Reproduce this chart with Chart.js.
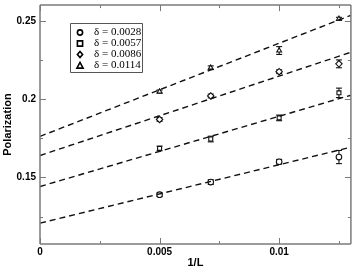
<!DOCTYPE html>
<html>
<head>
<meta charset="utf-8">
<script src="https://cdn.jsdelivr.net/npm/chart.js@4/dist/chart.umd.min.js"></script>
<style>
  html, body { margin: 0; padding: 0; background: #fff; }
</style>
</head>
<body>
<canvas id="chart" width="356" height="277"></canvas>
<script>
// 1/L values (L = 200, 140, 100, 80)
const invL = [0.005, 0.00714, 0.01, 0.0125];

const deltaLabels = ['δ = 0.0028', 'δ = 0.0057', 'δ = 0.0086', 'δ = 0.0114'];
const markerStyles = ['circle', 'rect', 'rectRot', 'triangle'];

// polarization per delta
const polD1 = [0.1390, 0.1470, 0.1600, 0.1630];
const polD2 = [0.1685, 0.1745, 0.1880, 0.2040];
const polD3 = [0.1870, 0.2020, 0.2175, 0.2225];
const polD4 = [0.2048, 0.2200, 0.2310, 0.2512];

// error bar half widths
const errD1 = [0.0012, 0.0015, 0.0015, 0.0042];
const errD2 = [0.0015, 0.0018, 0.0018, 0.0030];
const errD3 = [0.0012, 0.0012, 0.0012, 0.0025];
const errD4 = [0.0010, 0.0012, 0.0025, 0.0010];

// dashed fit lines: value at 1/L = 0 and at 1/L = 0.013
const fitX = [0, 0.013];
const fitD1 = [0.1208, 0.1693];
const fitD2 = [0.1442, 0.2025];
const fitD3 = [0.1640, 0.2299];
const fitD4 = [0.1762, 0.2535];

const xMajor = [0, 0.005, 0.01];
const xMinor = [0.0025, 0.0075, 0.0125];
const xTickLabels = ['0', '0.005', '0.01'];
const yMajor = [0.15, 0.2, 0.25];
const yMinor = [0.125, 0.175, 0.225];
const yTickLabels = ['0.15', '0.2', '0.25'];

const pols = [polD1, polD2, polD3, polD4];
const errs = [errD1, errD2, errD3, errD4];
const fits = [fitD1, fitD2, fitD3, fitD4];

const datasets = [];
fits.forEach(function (f) {
  datasets.push({
    type: 'line',
    data: fitX.map(function (x, i) { return { x: x, y: f[i] }; }),
    borderColor: '#111',
    borderWidth: 1.4,
    borderDash: [6, 4],
    pointRadius: 0,
    fill: false
  });
});
pols.forEach(function (p, k) {
  datasets.push({
    type: 'scatter',
    label: deltaLabels[k],
    data: invL.map(function (x, i) { return { x: x, y: p[i] }; }),
    pointStyle: markerStyles[k],
    pointRadius: k === 2 ? 3.2 : 2.8,
    borderColor: '#111',
    backgroundColor: '#fff',
    pointBorderWidth: 1.1,
    errors: errs[k]
  });
});

function drawMarker(ctx, style, x, y, r) {
  ctx.beginPath();
  if (style === 'circle') {
    ctx.arc(x, y, r, 0, Math.PI * 2);
  } else if (style === 'rect') {
    ctx.rect(x - r, y - r, 2 * r, 2 * r);
  } else if (style === 'rectRot') {
    ctx.moveTo(x, y - r - 0.5); ctx.lineTo(x + r, y); ctx.lineTo(x, y + r + 0.5); ctx.lineTo(x - r, y); ctx.closePath();
  } else {
    ctx.moveTo(x, y - r - 0.5); ctx.lineTo(x + r + 0.5, y + r); ctx.lineTo(x - r - 0.5, y + r); ctx.closePath();
  }
  ctx.fillStyle = '#fff';
  ctx.fill();
  ctx.stroke();
}

function line(ctx, x1, y1, x2, y2) {
  ctx.beginPath();
  ctx.moveTo(x1, y1);
  ctx.lineTo(x2, y2);
  ctx.stroke();
}

const extras = {
  id: 'extras',
  beforeDatasetsDraw: function (chart) {
    const ctx = chart.ctx, xs = chart.scales.x, ys = chart.scales.y;
    // error bars
    ctx.save();
    ctx.setLineDash([]);
    ctx.strokeStyle = '#111';
    ctx.lineWidth = 1.1;
    chart.data.datasets.forEach(function (ds) {
      if (!ds.errors) return;
      ds.data.forEach(function (pt, i) {
        const px = xs.getPixelForValue(pt.x);
        const top = ys.getPixelForValue(pt.y + ds.errors[i]);
        const bot = ys.getPixelForValue(pt.y - ds.errors[i]);
        line(ctx, px, top, px, bot);
        line(ctx, px - 3, top, px + 3, top);
        line(ctx, px - 3, bot, px + 3, bot);
      });
    });
    ctx.restore();
  },
  afterDraw: function (chart) {
    const ctx = chart.ctx, xs = chart.scales.x, ys = chart.scales.y;
    const a = chart.chartArea;
    ctx.save();
    ctx.setLineDash([]);
    ctx.globalAlpha = 1;

    // frame
    ctx.strokeStyle = '#7a7a7a';
    ctx.lineWidth = 1.5;
    line(ctx, a.left, a.top, a.right, a.top);
    line(ctx, a.right, a.top, a.right, a.bottom);
    line(ctx, a.right, a.bottom, a.left, a.bottom);
    line(ctx, a.left, a.bottom, a.left, a.top);

    // inward ticks on all sides
    ctx.lineWidth = 1;
    function xt(v, len) {
      const p = Math.round(xs.getPixelForValue(v)) + 0.5;
      line(ctx, p, a.bottom, p, a.bottom - len);
      line(ctx, p, a.top, p, a.top + len);
    }
    function yt(v, len) {
      const p = Math.round(ys.getPixelForValue(v)) + 0.5;
      line(ctx, a.left, p, a.left + len, p);
      line(ctx, a.right, p, a.right - len, p);
    }
    xMajor.forEach(function (v) { xt(v, 6); });
    xMinor.forEach(function (v) { xt(v, 3); });
    yMajor.forEach(function (v) { yt(v, 6); });
    yMinor.forEach(function (v) { yt(v, 3); });

    // tick labels
    ctx.fillStyle = '#000';
    ctx.font = 'bold 10px "Liberation Sans", Arial, sans-serif';
    ctx.textBaseline = 'middle';
    ctx.textAlign = 'center';
    xMajor.forEach(function (v, i) {
      ctx.fillText(xTickLabels[i], xs.getPixelForValue(v), a.bottom + 8);
    });
    ctx.textAlign = 'right';
    yMajor.forEach(function (v, i) {
      ctx.fillText(yTickLabels[i], a.left - 4, ys.getPixelForValue(v));
    });

    // axis titles
    ctx.font = 'bold 11px "Liberation Sans", Arial, sans-serif';
    ctx.textAlign = 'center';
    ctx.fillText('1/L', (a.left + a.right) / 2, 263);
    ctx.save();
    ctx.translate(8, (a.top + a.bottom) / 2);
    ctx.rotate(-Math.PI / 2);
    ctx.fillText('Polarization', 0, 0);
    ctx.restore();

    // legend box
    const bx = 70.5, by = 23.5, bw = 72, bh = 49;
    ctx.fillStyle = '#fff';
    ctx.fillRect(bx, by, bw, bh);
    ctx.strokeStyle = '#555';
    ctx.lineWidth = 1;
    line(ctx, bx, by, bx + bw, by);
    line(ctx, bx + bw, by, bx + bw, by + bh);
    line(ctx, bx + bw, by + bh, bx, by + bh);
    line(ctx, bx, by + bh, bx, by);
    ctx.font = '11px "Liberation Serif", "Times New Roman", serif';
    ctx.textAlign = 'left';
    ctx.textBaseline = 'middle';
    deltaLabels.forEach(function (lab, k) {
      const yy = by + 9 + k * 11;
      ctx.strokeStyle = '#000';
      ctx.lineWidth = 1.6;
      drawMarker(ctx, markerStyles[k], 80, yy, 2.6);
      ctx.fillStyle = '#000';
      ctx.fillText(lab, 94, yy);
    });
    ctx.restore();
  }
};

new Chart(document.getElementById('chart'), {
  data: { datasets: datasets },
  plugins: [extras],
  options: {
    responsive: false,
    animation: false,
    layout: { padding: { top: 1, right: 1, left: 0, bottom: 0 } },
    plugins: { legend: { display: false }, tooltip: { enabled: false } },
    scales: {
      x: {
        type: 'linear',
        min: 0,
        max: 0.013,
        afterBuildTicks: function (s) { s.ticks = xMajor.map(function (v) { return { value: v }; }); },
        afterFit: function (s) { s.height = 33; s.paddingLeft = 0; s.paddingRight = 0; },
        grid: { display: false },
        border: { display: false },
        ticks: { display: false }
      },
      y: {
        type: 'linear',
        min: 0.1075,
        max: 0.26,
        afterBuildTicks: function (s) { s.ticks = yMajor.map(function (v) { return { value: v }; }); },
        afterFit: function (s) { s.width = 40; s.paddingTop = 0; s.paddingBottom = 0; },
        grid: { display: false },
        border: { display: false },
        ticks: { display: false }
      }
    }
  }
});
</script>
</body>
</html>
